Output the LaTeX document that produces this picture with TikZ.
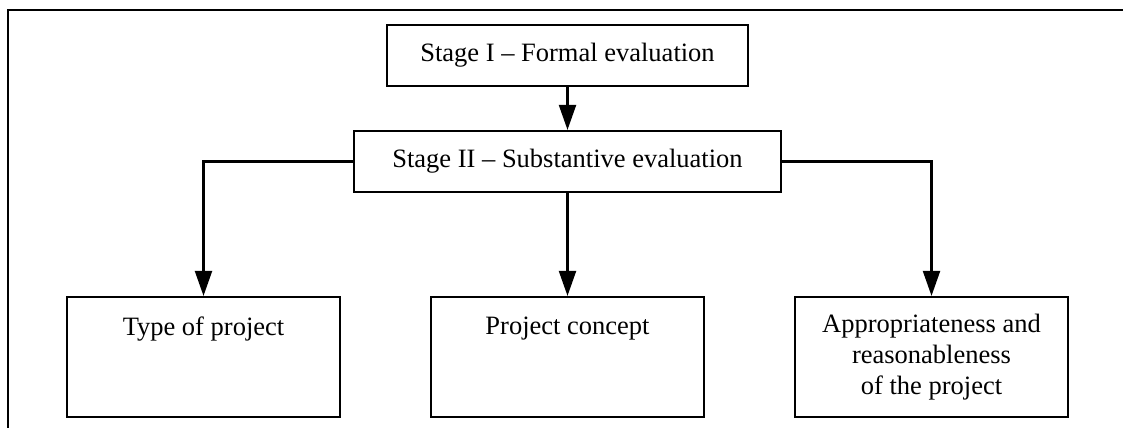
\documentclass[tikz,border=0pt]{standalone}
\usepackage{fontspec}
\setmainfont{Liberation Serif}
\usetikzlibrary{positioning, arrows.meta}

\begin{document}
\begin{tikzpicture}[
    x=1pt, y=-1pt,
    >={Triangle[length=25pt,width=17pt]},
    line width=2.2pt,
    on grid,
    font=\fontsize{26.5}{31}\selectfont,
    stagebox/.style={
        draw,
        rectangle,
        minimum height=61pt,
        inner sep=0pt
    },
    areabox/.style={
        draw,
        rectangle,
        align=center,
        minimum width=273pt,
        minimum height=120pt,
        inner sep=0pt
    }
]
\useasboundingbox (0,0) rectangle (1123,428);

% frame
\draw (1123,10) -- (8,10) -- (8,428);

\node[stagebox, minimum width=361pt] (st1) at (567.5,55.5) {Stage I -- Formal evaluation};
\node[stagebox, minimum width=427pt, below=106pt of st1] (st2) {Stage II -- Substantive evaluation};

\node[areabox, below=195.5pt of st2] (concept) {Project concept\\~\\~};
\node[areabox, left=364pt of concept] (type) {Type of project\\~\\~};
\node[areabox, right=364pt of concept] (approp) {Appropriateness and\\reasonableness\\of the project};

\draw[->] (st1) -- (st2);
\draw[->] (st2) -- (concept);
\draw[->] (st2.west) -| (type.north);
\draw[->] (st2.east) -| (approp.north);

\end{tikzpicture}
\end{document}
